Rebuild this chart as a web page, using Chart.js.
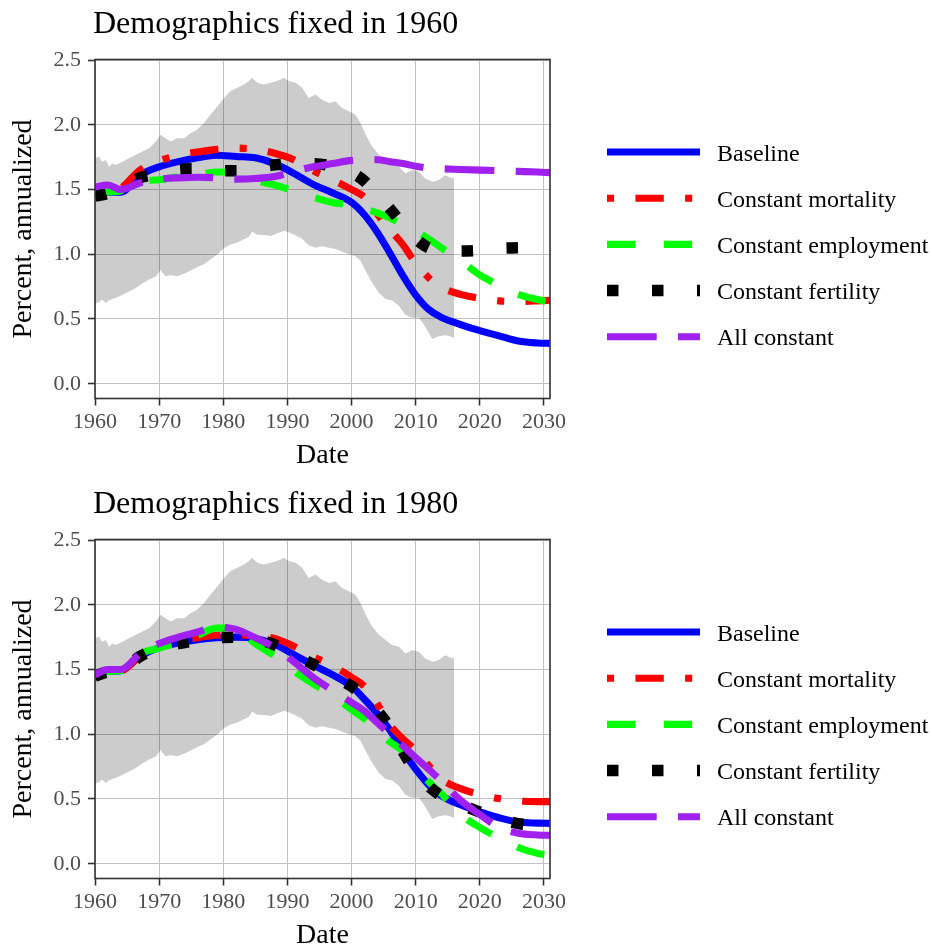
<!DOCTYPE html>
<html>
<head>
<meta charset="utf-8">
<title>Demographics fixed</title>
<script src="https://cdn.jsdelivr.net/npm/chart.js@4.4.0/dist/chart.umd.min.js"></script>
<style>
  html, body { margin: 0; padding: 0; background: #fff; overflow: hidden; }
  .panel { width: 930px; height: 480px; }
  canvas { display: block; }
</style>
</head>
<body>
<div class="panel"><canvas id="fixed1960" width="930" height="480"></canvas></div>
<div class="panel"><canvas id="fixed1980" width="930" height="480"></canvas></div>
<script>
// ===== Data =====
const xTicks = [1960, 1970, 1980, 1990, 2000, 2010, 2020, 2030];
const yTicks = [0, 0.5, 1, 1.5, 2, 2.5];

// shaded range (same in both panels)
const bandYears = [1960, 1960.6, 1961.1, 1961.7, 1962.2, 1962.7, 1963.2, 1964.3, 1965.3, 1966.3,
  1967.4, 1968.4, 1969.5, 1970.2, 1971.0, 1971.8, 1972.8, 1973.9, 1974.9, 1975.9,
  1977.0, 1978.0, 1979.1, 1980.1, 1981.1, 1982.2, 1983.2, 1984.0, 1984.5, 1985.3,
  1986.3, 1987.4, 1988.4, 1989.5, 1990.2, 1991.3, 1992.3, 1993.3, 1994.4, 1995.4,
  1996.5, 1997.5, 1998.5, 1999.6, 2000.6, 2001.4, 2002.2, 2003.2, 2004.3, 2005.3,
  2006.3, 2007.4, 2008.4, 2009.5, 2010.5, 2011.5, 2012.6, 2013.6, 2014.6, 2015.7, 2016.0];
const bandUpper = [1.74, 1.754, 1.715, 1.728, 1.676, 1.70, 1.689, 1.715, 1.741, 1.767,
  1.793, 1.819, 1.87, 1.922, 1.896, 1.87, 1.896, 1.896, 1.935, 1.961,
  2.013, 2.078, 2.142, 2.207, 2.259, 2.285, 2.311, 2.337, 2.363, 2.324,
  2.311, 2.324, 2.337, 2.363, 2.337, 2.324, 2.285, 2.207, 2.233, 2.194,
  2.168, 2.181, 2.13, 2.104, 2.078, 2.013, 1.922, 1.832, 1.767, 1.728,
  1.689, 1.676, 1.624, 1.65, 1.637, 1.585, 1.56, 1.573, 1.611, 1.585, 1.59];
const bandLower = [0.62, 0.63, 0.65, 0.623, 0.645, 0.655, 0.662, 0.687, 0.713, 0.738,
  0.777, 0.803, 0.828, 0.879, 0.828, 0.84, 0.83, 0.85, 0.875, 0.90,
  0.925, 0.96, 1.0, 1.046, 1.075, 1.09, 1.115, 1.136, 1.174, 1.15,
  1.149, 1.14, 1.162, 1.18, 1.17, 1.145, 1.12, 1.07, 1.05, 1.062,
  1.05, 1.04, 1.02, 1.0, 0.985, 0.95, 0.87, 0.78, 0.70, 0.655,
  0.645, 0.60, 0.53, 0.51, 0.51, 0.44, 0.345, 0.367, 0.375, 0.36, 0.354];

const lineYears = [1960, 1962, 1964, 1967, 1970, 1973, 1976, 1979, 1982, 1985,
  1988, 1991, 1994, 1997, 2000, 2002, 2004, 2006, 2008, 2010,
  2012, 2014, 2017, 2020, 2023, 2026, 2029, 2031];

// demographics fixed in 1960
const baseline60 = [1.46, 1.48, 1.48, 1.61, 1.675, 1.715, 1.745, 1.765, 1.755, 1.745,
  1.70, 1.625, 1.54, 1.475, 1.40, 1.305, 1.17, 1.007, 0.835, 0.685,
  0.575, 0.512, 0.457, 0.41, 0.37, 0.33, 0.315, 0.312];
const mortality60 = [1.46, 1.48, 1.51, 1.65, 1.72, 1.765, 1.79, 1.81, 1.82, 1.81,
  1.78, 1.73, 1.645, 1.575, 1.50, 1.44, 1.31, 1.19, 1.075, 0.93,
  0.82, 0.745, 0.69, 0.66, 0.64, 0.635, 0.64, 0.645];
const employment60 = [1.46, 1.48, 1.49, 1.56, 1.575, 1.60, 1.615, 1.635, 1.625, 1.57,
  1.535, 1.49, 1.44, 1.40, 1.38, 1.35, 1.32, 1.28, 1.23, 1.18,
  1.12, 1.05, 0.95, 0.84, 0.76, 0.69, 0.65, 0.63];
const fertility60 = [1.45, 1.47, 1.51, 1.59, 1.62, 1.655, 1.66, 1.645, 1.645, 1.665,
  1.69, 1.70, 1.70, 1.68, 1.63, 1.565, 1.46, 1.35, 1.23, 1.12,
  1.05, 1.03, 1.025, 1.03, 1.045, 1.05, 1.055, 1.06];
const allConst60 = [1.52, 1.535, 1.50, 1.55, 1.58, 1.59, 1.595, 1.59, 1.58, 1.585,
  1.60, 1.64, 1.675, 1.70, 1.725, 1.73, 1.73, 1.715, 1.70, 1.68,
  1.665, 1.66, 1.655, 1.65, 1.645, 1.64, 1.635, 1.63];

// demographics fixed in 1980
const baseline80 = [1.45, 1.485, 1.49, 1.60, 1.67, 1.705, 1.73, 1.745, 1.75, 1.74,
  1.695, 1.615, 1.535, 1.46, 1.37, 1.27, 1.16, 1.03, 0.87, 0.73,
  0.61, 0.525, 0.455, 0.40, 0.355, 0.322, 0.314, 0.312];
const mortality80 = [1.45, 1.485, 1.49, 1.60, 1.675, 1.72, 1.745, 1.765, 1.765, 1.76,
  1.74, 1.68, 1.60, 1.53, 1.44, 1.37, 1.235, 1.07, 0.965, 0.875,
  0.76, 0.655, 0.58, 0.535, 0.503, 0.485, 0.48, 0.48];
const employment80 = [1.45, 1.485, 1.49, 1.62, 1.665, 1.71, 1.765, 1.82, 1.81, 1.70,
  1.605, 1.49, 1.39, 1.30, 1.19, 1.12, 1.03, 0.94, 0.87, 0.75,
  0.635, 0.54, 0.38, 0.28, 0.20, 0.125, 0.08, 0.063];
const fertility80 = [1.45, 1.48, 1.49, 1.60, 1.665, 1.70, 1.725, 1.745, 1.75, 1.735,
  1.69, 1.61, 1.54, 1.455, 1.37, 1.29, 1.18, 1.05, 0.87, 0.71,
  0.60, 0.525, 0.455, 0.40, 0.35, 0.31, 0.30, 0.30];
const allConst80 = [1.46, 1.50, 1.50, 1.62, 1.70, 1.75, 1.79, 1.83, 1.81, 1.745,
  1.67, 1.56, 1.44, 1.34, 1.245, 1.18, 1.09, 1.00, 0.91, 0.82,
  0.73, 0.64, 0.49, 0.38, 0.28, 0.235, 0.222, 0.22];

// ===== Styles =====
const LW = 7.1;
const seriesStyles = [
  { label: 'Baseline', color: '#0000ff', width: LW, dash: [] },
  { label: 'Constant mortality', color: '#ff0000', width: LW, dash: [LW, 3 * LW, 4 * LW, 3 * LW] },
  { label: 'Constant employment', color: '#00ff00', width: LW, dash: [4 * LW, 4 * LW] },
  { label: 'Constant fertility', color: '#000000', width: 11.5, dash: [11.5, 33.5] },
  { label: 'All constant', color: '#a020f0', width: LW, dash: [7 * LW, 3 * LW] }
];

Chart.defaults.font.family = "'Liberation Serif', 'Times New Roman', serif";

// ===== Panel title, border and legend =====
const panelDecor = {
  id: 'panelDecor',
  afterDatasetsDraw(chart) {
    const { ctx, chartArea: a } = chart;
    ctx.save();
    ctx.strokeStyle = '#333333';
    ctx.lineWidth = 1.6;
    ctx.strokeRect(a.left, a.top, a.right - a.left, a.bottom - a.top);
    ctx.restore();
  },
  afterDraw(chart, args, opts) {
    const { ctx, chartArea: a } = chart;
    ctx.save();
    ctx.fillStyle = '#000';
    ctx.textBaseline = 'alphabetic';
    ctx.font = "32px 'Liberation Serif', serif";
    ctx.fillText(opts.title, a.left - 2, 33);

    const items = chart.data.datasets.filter(ds => !ds.isBand);
    const x0 = a.right + 57, x1 = a.right + 150;
    const midY = 244.4, step = 46.2;
    ctx.font = "24px 'Liberation Serif', serif";
    items.forEach((ds, i) => {
      const y = midY + (i - (items.length - 1) / 2) * step;
      ctx.beginPath();
      ctx.strokeStyle = ds.borderColor;
      ctx.lineWidth = ds.borderWidth;
      ctx.lineCap = 'butt';
      ctx.setLineDash(ds.borderDash);
      ctx.moveTo(x0, y);
      ctx.lineTo(x1, y);
      ctx.stroke();
      ctx.setLineDash([]);
      ctx.fillStyle = '#000';
      ctx.fillText(ds.label, a.right + 167, y + 8.6);
    });
    ctx.restore();
  }
};

function toPoints(xs, ys) {
  return xs.map((x, i) => ({ x: x, y: ys[i] }));
}

// ===== Create Chart =====
function makePanel(canvasId, title, series) {
  const datasets = [
    {
      data: toPoints(bandYears, bandUpper),
      fill: '+1',
      backgroundColor: 'rgba(0, 0, 0, 0.2)',
      borderColor: 'rgba(0, 0, 0, 0)',
      borderWidth: 0,
      pointRadius: 0,
      tension: 0,
      order: 6,
      isBand: true
    },
    {
      data: toPoints(bandYears, bandLower),
      fill: false,
      borderColor: 'rgba(0, 0, 0, 0)',
      borderWidth: 0,
      pointRadius: 0,
      tension: 0,
      order: 6,
      isBand: true
    }
  ];

  seriesStyles.forEach((s, i) => {
    datasets.push({
      label: s.label,
      data: toPoints(lineYears, series[i]),
      borderColor: s.color,
      borderWidth: s.width,
      borderDash: s.dash,
      borderCapStyle: 'butt',
      borderJoinStyle: 'round',
      fill: false,
      pointRadius: 0,
      cubicInterpolationMode: 'monotone',
      order: 5 - i,
      clip: 0
    });
  });

  const ctx = document.getElementById(canvasId).getContext('2d');
  return new Chart(ctx, {
    type: 'line',
    data: { datasets },
    plugins: [panelDecor],
    options: {
      responsive: false,
      animation: false,
      devicePixelRatio: 1,
      events: [],
      layout: { padding: { top: 59.5, right: 380, bottom: 0, left: 0 } },
      plugins: {
        legend: { display: false },
        title: { display: false },
        tooltip: { enabled: false },
        panelDecor: { title: title }
      },
      scales: {
        x: {
          type: 'linear',
          min: 1960,
          max: 2030.94,
          afterBuildTicks: scale => { scale.ticks = xTicks.map(v => ({ value: v })); },
          afterFit: scale => { scale.height = 81.5; },
          ticks: {
            autoSkip: false,
            maxRotation: 0,
            color: '#4d4d4d',
            font: { size: 22 },
            padding: 4,
            callback: v => String(v)
          },
          grid: { color: '#c2c2c2', lineWidth: 1, tickColor: '#333333', tickLength: 7, tickWidth: 1.6 },
          border: { display: false },
          title: { display: true, text: 'Date', color: '#000', font: { size: 28 }, padding: { top: 0, bottom: 8 } }
        },
        y: {
          type: 'linear',
          min: -0.114,
          max: 2.504,
          afterBuildTicks: scale => { scale.ticks = yTicks.map(v => ({ value: v })); },
          afterFit: scale => { scale.width = 95; },
          ticks: {
            color: '#4d4d4d',
            font: { size: 22 },
            padding: 7,
            callback: v => v.toFixed(1)
          },
          grid: { color: '#c2c2c2', lineWidth: 1, tickColor: '#333333', tickLength: 7, tickWidth: 1.6 },
          border: { display: false },
          title: { display: true, text: 'Percent, annualized', color: '#000', font: { size: 28 }, padding: { top: 7, bottom: 0 } }
        }
      }
    }
  });
}

makePanel('fixed1960', 'Demographics fixed in 1960',
  [baseline60, mortality60, employment60, fertility60, allConst60]);
makePanel('fixed1980', 'Demographics fixed in 1980',
  [baseline80, mortality80, employment80, fertility80, allConst80]);
</script>
</body>
</html>
